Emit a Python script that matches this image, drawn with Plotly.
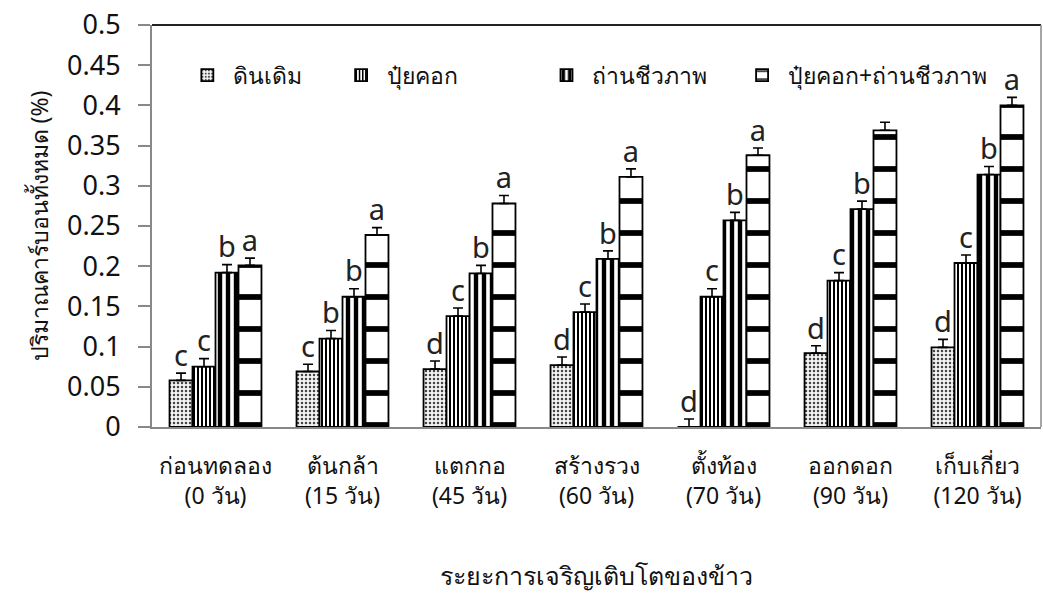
import plotly.graph_objects as go

# Growth stages of rice (x categories)
stages = [
    "ก่อนทดลอง<br>(0 วัน)",
    "ต้นกล้า<br>(15 วัน)",
    "แตกกอ<br>(45 วัน)",
    "สร้างรวง<br>(60 วัน)",
    "ตั้งท้อง<br>(70 วัน)",
    "ออกดอก<br>(90 วัน)",
    "เก็บเกี่ยว<br>(120 วัน)",
]

treatments = ["ดินเดิม", "ปุ๋ยคอก", "ถ่านชีวภาพ", "ปุ๋ยคอก+ถ่านชีวภาพ"]

# Total carbon (%) per treatment
soil = [0.058, 0.069, 0.072, 0.077, 0.0, 0.092, 0.099]
manure = [0.075, 0.110, 0.138, 0.143, 0.162, 0.182, 0.204]
biochar = [0.192, 0.162, 0.191, 0.209, 0.257, 0.271, 0.314]
manure_biochar = [0.201, 0.239, 0.278, 0.311, 0.338, 0.369, 0.400]

# Standard error (upper bars)
soil_err = [0.009, 0.009, 0.010, 0.010, 0.010, 0.009, 0.010]
manure_err = [0.010, 0.010, 0.010, 0.010, 0.010, 0.010, 0.010]
biochar_err = [0.010, 0.010, 0.010, 0.010, 0.010, 0.010, 0.010]
manure_biochar_err = [0.009, 0.009, 0.010, 0.010, 0.009, 0.010, 0.010]

# Significance letters
soil_sig = ["c", "c", "d", "d", "d", "d", "d"]
manure_sig = ["c", "b", "c", "c", "c", "c", "c"]
biochar_sig = ["b", "b", "b", "b", "b", "b", "b"]
manure_biochar_sig = ["a", "a", "a", "a", "a", "", "a"]

y_ticks = [0, 0.05, 0.1, 0.15, 0.2, 0.25, 0.3, 0.35, 0.4, 0.45, 0.5]

values = [soil, manure, biochar, manure_biochar]
errors = [soil_err, manure_err, biochar_err, manure_biochar_err]
letters = [soil_sig, manure_sig, biochar_sig, manure_biochar_sig]

patterns = [
    dict(shape=".", size=4, solidity=0.3, fgcolor="#444444", bgcolor="#f4f4f4",
         fgopacity=1),
    dict(shape="|", size=4, solidity=0.5, fgcolor="black", bgcolor="white",
         fgopacity=1),
    dict(shape="|", size=8, solidity=0.55, fgcolor="black", bgcolor="white",
         fgopacity=1),
    dict(shape="-", size=32, solidity=0.18, fgcolor="black", bgcolor="white",
         fgopacity=1),
]

FONT = "Noto Sans, DejaVu Sans, sans-serif"
bar_w = 0.181
n = len(treatments)

legend_names = ["legend", "legend2", "legend3", "legend4"]
legend_x = [0.033, 0.206, 0.437, 0.657]

fig = go.Figure()
for k in range(n):
    xs = [i + (k - (n - 1) / 2) * bar_w for i in range(len(stages))]
    fig.add_trace(go.Bar(
        x=xs, y=values[k], width=bar_w, name=treatments[k],
        marker=dict(color="white", pattern=patterns[k],
                    line=dict(color="black", width=1.8)),
        error_y=dict(type="data", symmetric=False, array=errors[k],
                     arrayminus=[0] * len(stages), color="black",
                     thickness=1.6, width=5),
        legend=legend_names[k],
    ))
    tops = [v + e for v, e in zip(values[k], errors[k])]
    fig.add_trace(go.Scatter(
        x=xs, y=tops, mode="text", text=letters[k],
        textposition="top center",
        textfont=dict(family=FONT, size=29, color="#222222"),
        showlegend=False, hoverinfo="skip",
    ))

layout_legends = {}
for name, lx in zip(legend_names, legend_x):
    layout_legends[name] = dict(
        x=lx, y=0.875, xanchor="left", yanchor="middle",
        orientation="h", bgcolor="rgba(0,0,0,0)", itemwidth=42,
        font=dict(family=FONT, size=23, color="#111111"),
    )

fig.update_layout(
    width=1043, height=610,
    margin=dict(l=152, r=2, t=25, b=183),
    plot_bgcolor="white", paper_bgcolor="white",
    barmode="overlay",
    showlegend=True,
    **layout_legends,
    xaxis=dict(
        range=[-0.5, len(stages) - 0.5],
        tickmode="array", tickvals=list(range(len(stages))), ticktext=stages,
        ticks="", showgrid=False, zeroline=False,
        showline=True, linecolor="#888888", linewidth=2,
        tickfont=dict(family=FONT, size=23, color="#111111"),
        ticklabelstandoff=17,
        title=dict(text="ระยะการเจริญเติบโตของข้าว",
                   font=dict(family=FONT, size=25, color="#111111"),
                   standoff=58),
    ),
    yaxis=dict(
        range=[0, 0.5],
        tickmode="array", tickvals=y_ticks,
        ticktext=[f"{t:g}" for t in y_ticks],
        ticks="outside", ticklen=12, tickcolor="#888888", tickwidth=1.5,
        showgrid=False, zeroline=False,
        showline=True, linecolor="#888888", linewidth=2,
        tickfont=dict(family=FONT, size=27, color="#111111"),
        ticklabelstandoff=12,
        title=dict(text="ปริมาณคาร์บอนทั้งหมด (%)",
                   font=dict(family=FONT, size=23, color="#111111"),
                   standoff=12),
    ),
    shapes=[
        dict(type="line", xref="paper", yref="paper", x0=0, x1=1, y0=1, y1=1,
             line=dict(color="#222222", width=2)),
        dict(type="line", xref="paper", yref="paper", x0=1, x1=1, y0=0, y1=1,
             line=dict(color="#888888", width=1.5)),
    ],
)

fig.write_html("out.html")
